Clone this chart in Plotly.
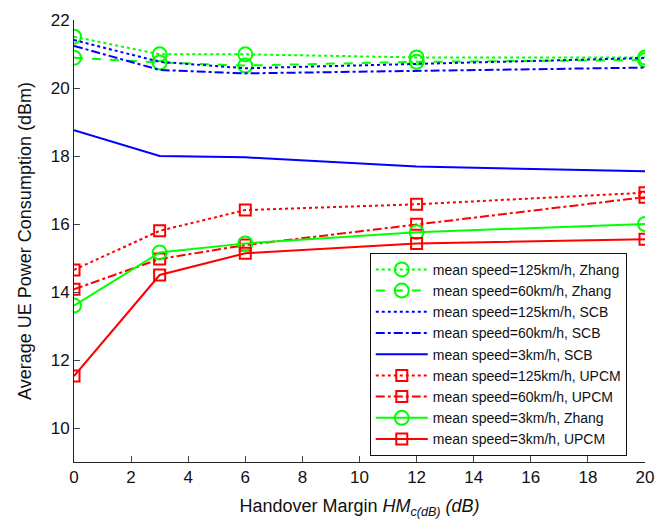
import plotly.graph_objects as go

# Handover margin values (dB)
hm = [0, 3, 6, 12, 20]

# Average UE power consumption (dBm) per scheme / mean speed
zhang_125 = [21.51, 20.99, 20.99, 20.90, 20.90]
zhang_60 = [20.89, 20.75, 20.66, 20.77, 20.82]
scb_125 = [21.41, 20.77, 20.58, 20.70, 20.88]
scb_60 = [21.24, 20.53, 20.43, 20.50, 20.60]
scb_3 = [18.76, 18.00, 17.96, 17.69, 17.55]
upcm_125 = [14.65, 15.80, 16.41, 16.58, 16.92]
upcm_60 = [14.08, 14.97, 15.38, 15.99, 16.79]
zhang_3 = [13.60, 15.16, 15.43, 15.76, 16.00]
upcm_3 = [11.53, 14.50, 15.14, 15.43, 15.55]

GREEN = "#00ff00"
BLUE = "#0000ff"
RED = "#ff0000"

series = [
    ("mean speed=125km/h, Zhang", zhang_125, GREEN, "dot", "circle-open"),
    ("mean speed=60km/h, Zhang", zhang_60, GREEN, "dash", "circle-open"),
    ("mean speed=125km/h, SCB", scb_125, BLUE, "dot", None),
    ("mean speed=60km/h, SCB", scb_60, BLUE, "dashdot", None),
    ("mean speed=3km/h, SCB", scb_3, BLUE, "solid", None),
    ("mean speed=125km/h, UPCM", upcm_125, RED, "dot", "square-open"),
    ("mean speed=60km/h, UPCM", upcm_60, RED, "dashdot", "square-open"),
    ("mean speed=3km/h, Zhang", zhang_3, GREEN, "solid", "circle-open"),
    ("mean speed=3km/h, UPCM", upcm_3, RED, "solid", "square-open"),
]

fig = go.Figure()
for name, ys, color, dash, sym in series:
    if sym:
        size = 14 if sym.startswith("circle") else 11
        fig.add_trace(go.Scatter(
            x=hm, y=ys, name=name, mode="lines+markers",
            line=dict(color=color, width=2, dash=dash),
            marker=dict(symbol=sym, size=size, color=color,
                        line=dict(color=color, width=2)),
        ))
    else:
        fig.add_trace(go.Scatter(
            x=hm, y=ys, name=name, mode="lines",
            line=dict(color=color, width=2, dash=dash),
        ))

FONT = "Liberation Sans, Arial, sans-serif"

fig.update_layout(
    width=655, height=519,
    margin=dict(l=74, r=10, t=20, b=57),
    plot_bgcolor="white", paper_bgcolor="white",
    font=dict(family=FONT, size=17, color="#111"),
    showlegend=True,
    legend=dict(
        x=0.518, y=0.014, xanchor="left", yanchor="bottom",
        bgcolor="white", bordercolor="#111", borderwidth=1,
        font=dict(family=FONT, size=14, color="#111"),
        tracegroupgap=0, itemwidth=52,
    ),
    xaxis=dict(
        range=[0, 20], tick0=0, dtick=2, ticks="inside", ticklen=6,
        showline=True, linecolor="#222", linewidth=1, mirror=False,
        showgrid=False, zeroline=False, automargin=False,
        title=dict(text="Handover Margin <i>HM</i><sub><i>c(dB)</i></sub> <i>(dB)</i>",
                   font=dict(size=18), standoff=14),
    ),
    yaxis=dict(
        range=[9, 22], tick0=10, dtick=2, ticks="inside", ticklen=6,
        showline=True, linecolor="#222", linewidth=1, mirror=False,
        showgrid=False, zeroline=False, automargin=False,
        title=dict(text="Average UE Power Consumption (dBm)", font=dict(size=18), standoff=14),
    ),
)

fig.write_html("out.html")
